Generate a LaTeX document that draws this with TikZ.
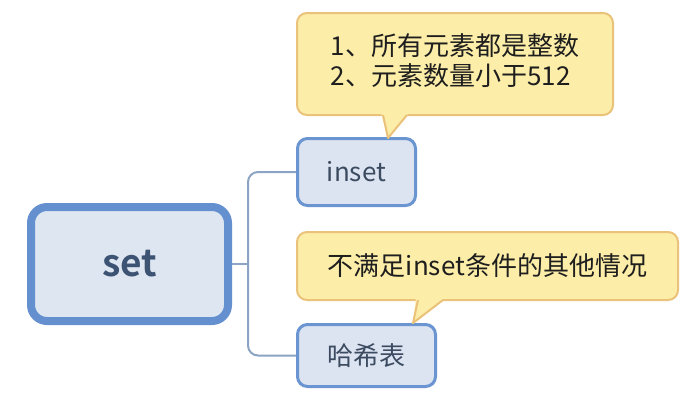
\documentclass[tikz,border=0pt]{standalone}
\usepackage{fontspec}
\setmainfont{Noto Sans CJK SC}[BoldFont={Noto Sans CJK SC Bold}]
\definecolor{setborder}{HTML}{6490CF}
\definecolor{setfill}{HTML}{DEE6F1}
\definecolor{settext}{HTML}{3D5373}
\definecolor{subborder}{HTML}{6B95D0}
\definecolor{subfill}{HTML}{DCE4F2}
\definecolor{subtext}{HTML}{3C4B60}
\definecolor{callfill}{HTML}{FCEDA8}
\definecolor{callborder}{HTML}{EBC27A}
\definecolor{calltext}{HTML}{1E1E1E}
\definecolor{linkcol}{HTML}{8CA4C4}
\tikzset{
  rootbox/.style={draw=setborder, fill=setfill, line width=8pt, rounded corners=16pt,
    minimum width=197pt, minimum height=114pt, inner sep=0pt, text=settext,
    font=\fontsize{37}{40}\selectfont\bfseries},
  subbox/.style={draw=subborder, fill=subfill, line width=3pt, rounded corners=10pt,
    inner sep=0pt, text=subtext, font=\fontsize{26}{30}\selectfont},
  callout/.style={draw=callborder, fill=callfill, line width=2pt, rounded corners=10pt,
    inner sep=0pt, text=calltext, font=\fontsize{26}{29}\selectfont},
  link/.style={draw=linkcol, line width=2pt},
}
\begin{document}
\begin{tikzpicture}[x=1pt, y=-1pt]
\useasboundingbox[fill=white] (0,0) rectangle (696,400);
% boxes
\node[rootbox] (set) at (129.5,264) {set};
\node[subbox, minimum width=118pt, minimum height=67pt] (inset) at (356.5,172) {inset};
\node[subbox, minimum width=138pt, minimum height=62pt] (hash) at (366.5,355.5) {哈希表};
% connectors
\coordinate (junc) at (248,264);
\draw[link] (set.east) -- (junc);
\draw[link, rounded corners=10pt] (inset.west) -| (junc) |- (hash.west);
% callouts
\node[callout, minimum width=316pt, minimum height=102pt, align=left] (c1) at (455,64)
  {\raisebox{-3pt}{\parbox{260pt}{\centering\begin{tabular}{@{}l@{}}1、所有元素都是整数\\[-1pt]2、元素数量小于512\end{tabular}}}};
\node[callout, minimum width=381pt, minimum height=68pt] (c2) at (487.5,266) {\raisebox{-2pt}{不满足inset条件的其他情况}};
% pointers
\coordinate (p1a) at (383,115);
\coordinate (p1b) at (407,115);
\coordinate (p1t) at (388,138);
\fill[callfill] (381,112.5) -- (409,112.5) -- (p1t) -- cycle;
\draw[callborder, line width=2pt, line join=round] (p1a) -- (p1t) -- (p1b);
\coordinate (p2a) at (418,300);
\coordinate (p2b) at (443,300);
\coordinate (p2t) at (413,323);
\fill[callfill] (416,297.5) -- (445,297.5) -- (p2t) -- cycle;
\draw[callborder, line width=2pt, line join=round] (p2a) -- (p2t) -- (p2b);
\end{tikzpicture}
\end{document}
